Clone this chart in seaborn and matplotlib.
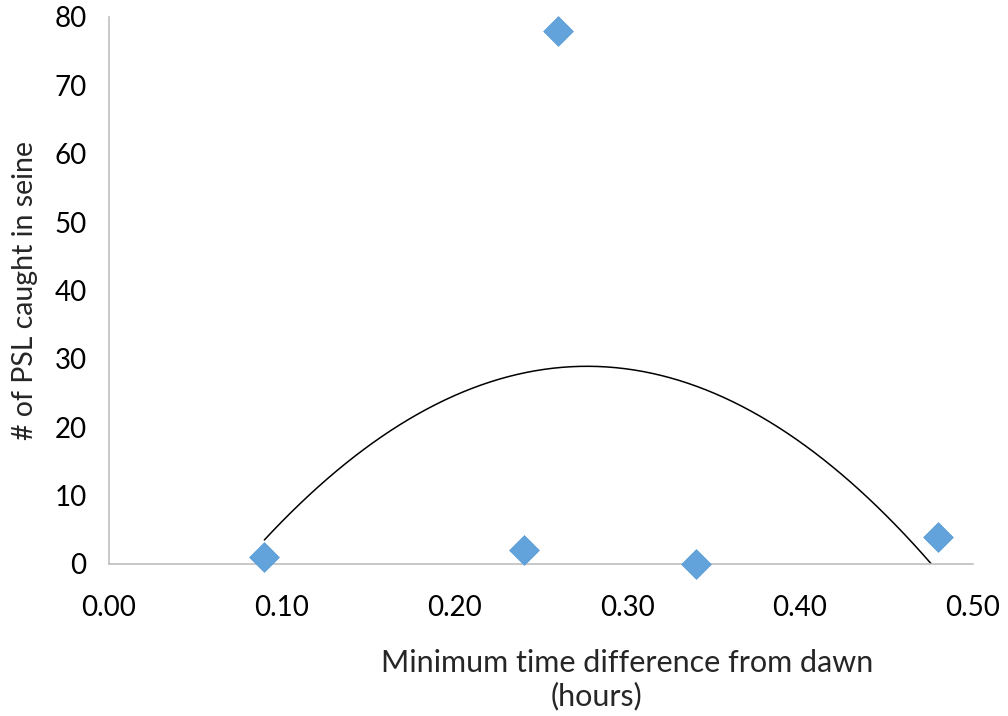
import numpy as np
import pandas as pd
import matplotlib
matplotlib.use("Agg")
import matplotlib.pyplot as plt
import seaborn as sns
from matplotlib.ticker import FormatStrFormatter

# Seine haul data: minimum time difference from dawn vs. PSL count
hours = [0.09, 0.24, 0.26, 0.34, 0.48]
psl_caught = [1, 2, 78, 0, 4]
x_ticks = [0.0, 0.1, 0.2, 0.3, 0.4, 0.5]
y_ticks = [0, 10, 20, 30, 40, 50, 60, 70, 80]

df = pd.DataFrame({"hours": hours, "psl": psl_caught})

sns.set_style("white")
plt.rcParams["font.family"] = ["Lato", "DejaVu Sans"]

fig = plt.figure(figsize=(10.08, 7.16), dpi=100)
ax = fig.add_axes([0.108, 0.2123, 0.857, 0.7640])

# Second-order polynomial trendline over the data range
coef = np.polyfit(df["hours"], df["psl"], 2)
xs = np.linspace(df["hours"].min(), df["hours"].max(), 300)
trend = pd.DataFrame({"hours": xs, "psl": np.polyval(coef, xs)})
sns.lineplot(data=trend, x="hours", y="psl", ax=ax, color="black", linewidth=1.1)

sns.scatterplot(data=df, x="hours", y="psl", ax=ax, marker="D", s=230,
                color="#62A3DC", edgecolor="#5B9BD5", linewidth=0.5,
                clip_on=False, zorder=5)

ax.set_xlim(0, 0.5)
ax.set_ylim(0, 80)
ax.set_xticks(x_ticks)
ax.set_yticks(y_ticks)
ax.xaxis.set_major_formatter(FormatStrFormatter("%.2f"))

for side in ["top", "right"]:
    ax.spines[side].set_visible(False)
for side in ["left", "bottom"]:
    ax.spines[side].set_color("#BFBFBF")
    ax.spines[side].set_linewidth(1.2)

ax.tick_params(axis="both", which="major", direction="out", length=8,
               width=1.2, color="#BFBFBF", labelsize=20, labelcolor="black")
ax.tick_params(axis="x", pad=14)
ax.tick_params(axis="y", pad=8)

# Two-line x-axis title, second line slightly left of the first
ax.set_xlabel("Minimum time difference from dawn", fontsize=22)
ax.xaxis.set_label_coords(0.60, -0.155)
ax.xaxis.label.set_va("top")
ax.text(0.565, -0.215, "(hours)", transform=ax.transAxes, fontsize=22,
        ha="center", va="top")
ax.set_ylabel("# of PSL caught in seine", fontsize=20.5, labelpad=12)

fig.savefig("out.png", dpi=100)
